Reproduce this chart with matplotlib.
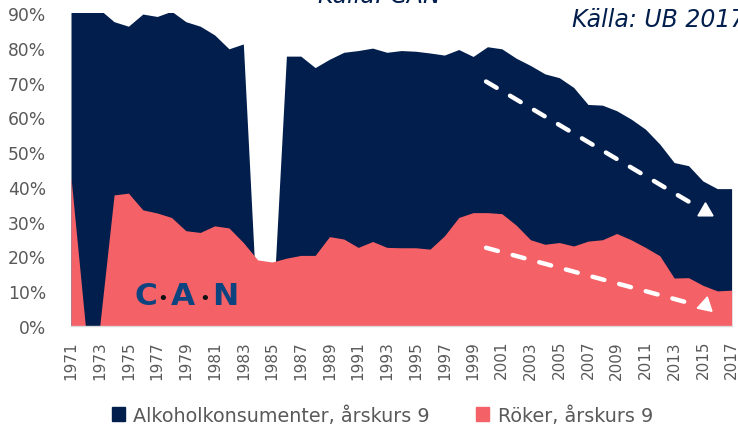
import matplotlib
matplotlib.use('Agg')
import matplotlib.pyplot as plt
import numpy as np
from matplotlib.patches import Patch
from matplotlib.collections import LineCollection

# Andel elever i årskurs 9 (procent), Källa: CAN / UB 2017
years = list(range(1971, 2018))
alkohol = [91, 91, 91, 87.5, 86.2, 89.7, 89.0, 90.5, 87.5, 86.2,
           83.7, 79.7, 81.1, 0, 0, 77.6, 77.6, 74.3, 76.7, 78.7,
           79.2, 79.9, 78.7, 79.2, 79.0, 78.5, 77.9, 79.5, 77.5, 80.3,
           79.7, 77.0, 74.9, 72.5, 71.4, 68.6, 63.7, 63.5, 61.9, 59.5,
           56.6, 52.3, 47.0, 46.1, 41.7, 39.5, 39.5]
roker = [42.7, 0, 0, 37.7, 38.2, 33.4, 32.5, 31.2, 27.4, 26.9,
         28.8, 28.2, 24.0, 19.0, 18.4, 19.5, 20.3, 20.3, 25.7, 25.0,
         22.6, 24.3, 22.6, 22.5, 22.5, 22.1, 25.9, 31.2, 32.6, 32.6,
         32.3, 29.0, 24.8, 23.5, 24.0, 23.0, 24.4, 24.8, 26.6, 24.8,
         22.6, 20.2, 13.8, 13.9, 11.7, 10.1, 10.3]
labels = ['Alkoholkonsumenter, årskurs 9', 'Röker, årskurs 9']

navy = '#021e4c'
rosa = '#f46166'
grey = '#595959'

W, H = 738, 435
fig = plt.figure(figsize=(W / 100, H / 100), dpi=100)
ax = fig.add_axes([71 / W, 1 - 327 / H, (731.6 - 71) / W, (327 - 14) / H])

ax.fill_between(years, alkohol, color=navy, lw=0)
ax.fill_between(years, roker, color=rosa, lw=0)

ax.set_xlim(1971, 2017)
ax.set_ylim(0, 90)
ax.set_yticks(range(0, 91, 10))
ax.set_yticklabels([f'{v}%' for v in range(0, 91, 10)])
ax.set_xticks(years[::2])
ax.set_xticklabels([str(y) for y in years[::2]], rotation=90)
ax.tick_params(axis='y', length=0, pad=18, labelsize=12.3, labelcolor=grey)
ax.tick_params(axis='x', length=0, pad=10, labelsize=11, labelcolor=grey)
for s in ['top', 'right', 'left']:
    ax.spines[s].set_visible(False)
ax.spines['bottom'].set_color('#d9d9d9')
ax.spines['bottom'].set_linewidth(1)


# streckad trendpil: n streck mellan två punkter, triangel vid slutet
def trendpil(x0, y0, x1, y1, n, spets, vinkel):
    t = np.linspace(0, 1, 2 * n)
    on = 12.0 / 27
    steg = 1.0 / (n - 1 + on)
    starts = np.arange(n) * steg
    ends = starts + on * steg
    segs = [[(x0 + (x1 - x0) * a, y0 + (y1 - y0) * a),
             (x0 + (x1 - x0) * b, y0 + (y1 - y0) * b)] for a, b in zip(starts, ends)]
    ax.add_collection(LineCollection(segs, colors='white', linewidths=3.2,
                                     capstyle='round'))
    ax.plot([spets[0]], [spets[1]], marker=(3, 0, vinkel), ms=12.5,
            color='white', mec='white', ls='none')


trendpil(1999.9, 70.3, 2014.0, 35.8, 9, (2015.17, 33.2), 0)
trendpil(1999.9, 22.5, 2013.7, 7.0, 8, (2015.15, 5.9), -12)

# CAN-logga
for ch, x in [('C', 146), ('A', 183), ('N', 225)]:
    fig.text(x / W, 1 - 305 / H, ch, ha='center', va='baseline',
             fontsize=22.5, fontweight='bold', color='#0d4480')
for x in [163, 205]:
    fig.text(x / W, 1 - 299 / H, '•', ha='center', va='center',
             fontsize=13, color='#111111')

# källor
fig.text(572 / W, 1 - 27 / H, 'Källa: UB 2017', ha='left', va='baseline',
         fontsize=17, style='italic', color=navy)
fig.text(318 / W, 1 - 3 / H, 'Källa: CAN', ha='left', va='baseline',
         fontsize=17, style='italic', color=navy)

handles = [Patch(color=navy), Patch(color=rosa)]
fig.legend(handles, labels, loc='center', bbox_to_anchor=(0.518, 1 - 416 / H),
           ncol=2, frameon=False, fontsize=13.8, labelcolor=grey,
           handlelength=0.68, handleheight=0.68, handletextpad=0.42,
           columnspacing=2.45)

fig.savefig('out.png', dpi=100)
